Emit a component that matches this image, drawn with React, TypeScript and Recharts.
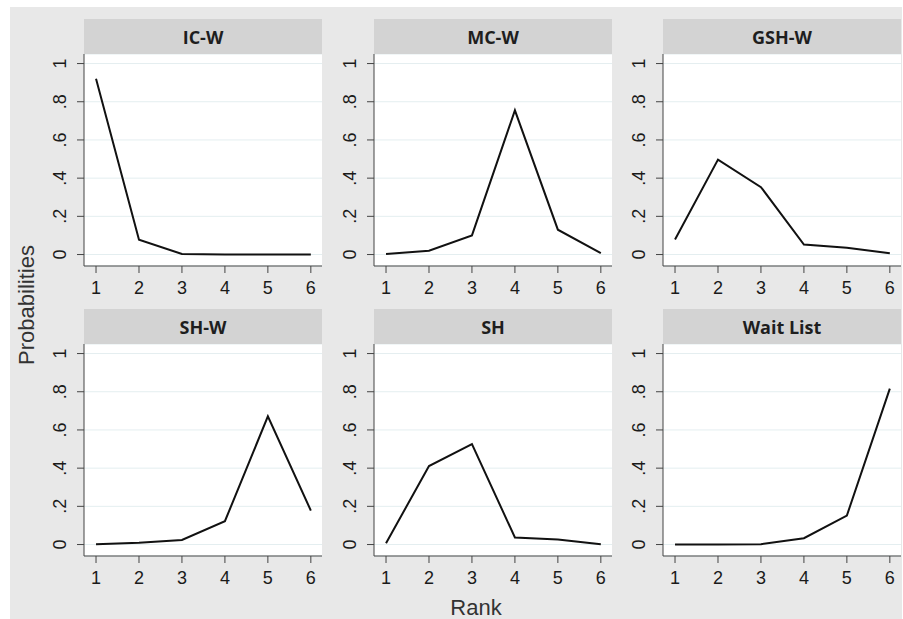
import { LineChart, Line, XAxis, YAxis, CartesianGrid } from 'recharts';

const ranks = [1, 2, 3, 4, 5, 6];

const icW = [0.92, 0.078, 0.003, 0, 0, 0];
const mcW = [0.003, 0.02, 0.1, 0.755, 0.13, 0.007];
const gshW = [0.079, 0.497, 0.353, 0.052, 0.035, 0.007];
const shW = [0.001, 0.009, 0.024, 0.122, 0.671, 0.178];
const sh = [0.007, 0.411, 0.526, 0.037, 0.026, 0.002];
const waitList = [0, 0, 0.002, 0.033, 0.152, 0.816];

const panelTitles = ['IC-W', 'MC-W', 'GSH-W', 'SH-W', 'SH', 'Wait List'];
const panelSeries = [icW, mcW, gshW, shW, sh, waitList];

const yTicks = [0, 0.2, 0.4, 0.6, 0.8, 1];
const yTickLabels = ['0', '.2', '.4', '.6', '.8', '1'];
const xTicks = [1, 2, 3, 4, 5, 6];

const yAxisTitle = 'Probabilities';
const xAxisTitle = 'Rank';

// layout
const colX = [84, 374, 663];
const rowTop = [54, 344];
const plotW = 238;
const plotH = 212;
const headerH = 35;
const yAxisW = 50;
const xAxisH = 40;

const tickFont = { fontFamily: 'Liberation Sans, Arial, sans-serif', fontSize: 18, fill: '#1a1a1a' };

const XTick = (props: any) => {
  const { x, y, payload } = props;
  return (
    <text x={x} y={y + 19} textAnchor="middle" {...tickFont}>
      {payload.value}
    </text>
  );
};

const YTick = (props: any) => {
  const { x, y, payload } = props;
  const idx = yTicks.findIndex((t) => Math.abs(t - payload.value) < 1e-6);
  return (
    <text transform={`translate(${x - 9},${y}) rotate(-90)`} textAnchor="middle" {...tickFont}>
      {idx >= 0 ? yTickLabels[idx] : payload.value}
    </text>
  );
};

const Panel = ({ title, values, left, top }: { title: string; values: number[]; left: number; top: number }) => {
  const data = ranks.map((r, i) => ({ rank: r, p: values[i] }));
  return (
    <>
      <div
        style={{
          position: 'absolute',
          left,
          top: top - headerH,
          width: plotW,
          height: headerH,
          background: '#d3d3d3',
          display: 'flex',
          alignItems: 'center',
          justifyContent: 'center',
          fontFamily: 'Open Sans, sans-serif',
          fontWeight: 700,
          fontSize: 18,
          color: '#1e1e1e',
        }}
      >
        {title}
      </div>
      <div style={{ position: 'absolute', left: left - yAxisW, top }}>
        <LineChart width={yAxisW + plotW} height={plotH + xAxisH} data={data} margin={{ top: 0, right: 0, bottom: 0, left: 0 }}>
          <CartesianGrid vertical={false} stroke="#e4eef0" fill="#ffffff" />
          <XAxis
            dataKey="rank"
            type="number"
            domain={[0.72, 6.26]}
            ticks={xTicks}
            allowDataOverflow
            height={xAxisH}
            tickSize={7}
            axisLine={{ stroke: '#444' }}
            tickLine={{ stroke: '#444' }}
            tick={<XTick />}
          />
          <YAxis
            type="number"
            domain={[-0.06, 1.05]}
            ticks={yTicks}
            allowDataOverflow
            width={yAxisW}
            tickSize={7}
            axisLine={{ stroke: '#444' }}
            tickLine={{ stroke: '#444' }}
            tick={<YTick />}
          />
          <Line type="linear" dataKey="p" stroke="#111" strokeWidth={2} dot={false} isAnimationActive={false} />
        </LineChart>
      </div>
    </>
  );
};

export default function App() {
  return (
    <div style={{ position: 'absolute', left: 0, top: 0, width: 903, height: 619, background: '#fff', overflow: 'hidden' }}>
      <div style={{ position: 'absolute', left: 10, top: 7, width: 892, height: 612, background: '#e8e8e8' }} />
      {panelTitles.map((t, i) => (
        <Panel key={t} title={t} values={panelSeries[i]} left={colX[i % 3]} top={rowTop[Math.floor(i / 3)]} />
      ))}
      <svg width={903} height={619} style={{ position: 'absolute', left: 0, top: 0, pointerEvents: 'none' }}>
        <text
          transform="translate(34,305) rotate(-90)"
          textAnchor="middle"
          fontFamily="Liberation Sans, Arial, sans-serif"
          fontSize={22}
          fill="#333"
        >
          {yAxisTitle}
        </text>
        <text x={476} y={615} textAnchor="middle" fontFamily="Liberation Sans, Arial, sans-serif" fontSize={22} fill="#333">
          {xAxisTitle}
        </text>
      </svg>
    </div>
  );
}
